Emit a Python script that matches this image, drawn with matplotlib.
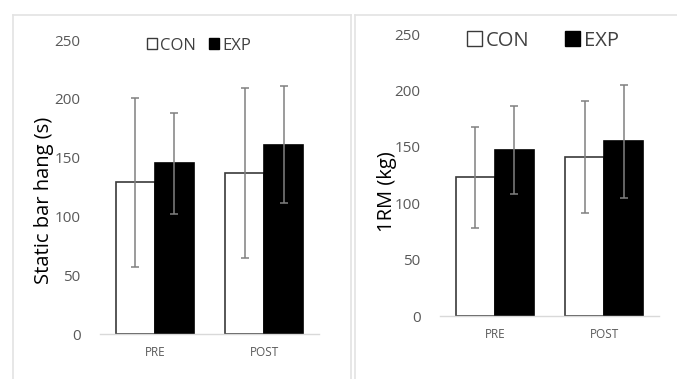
import matplotlib.pyplot as plt
from matplotlib.patches import Patch
from matplotlib.lines import Line2D
import numpy as np

# ── data ──────────────────────────────────────
phases = ['PRE', 'POST']
groups = ['CON', 'EXP']

hang_mean = {'CON': [129, 137], 'EXP': [145, 161]}
hang_sd = {'CON': [72, 72], 'EXP': [43, 50]}

rm_mean = {'CON': [123, 141], 'EXP': [147, 155]}
rm_sd = {'CON': [45, 50], 'EXP': [39, 50]}

W, H = 677, 379
fig = plt.figure(figsize=(W / 100, H / 100), dpi=100)
plt.rcParams['font.family'] = ['Open Sans', 'DejaVu Sans']

TICK_GRAY = '#595959'
ERR_GRAY = '#808080'
FRAME_GRAY = '#e3e3e3'


def px_axes(x0, x1, y_top, y_bot):
    return fig.add_axes([x0 / W, 1 - y_bot / H, (x1 - x0) / W, (y_bot - y_top) / H])


def draw_panel(ax, means, sds, ylabel):
    x = np.arange(len(phases))
    bw = 0.358
    ax.bar(x - bw / 2, means['CON'], bw, color='white', edgecolor='#3a3a3a', linewidth=1.2, zorder=2)
    ax.bar(x + bw / 2, means['EXP'], bw, color='black', edgecolor='black', linewidth=1.2, zorder=2)
    ax.errorbar(x - bw / 2, means['CON'], yerr=sds['CON'], fmt='none', ecolor=ERR_GRAY,
                elinewidth=1.1, capsize=3, capthick=1.1, zorder=3)
    ax.errorbar(x + bw / 2, means['EXP'], yerr=sds['EXP'], fmt='none', ecolor=ERR_GRAY,
                elinewidth=1.1, capsize=3, capthick=1.1, zorder=3)
    ax.set_xlim(-0.5, 1.5)
    ax.set_ylim(0, 250)
    ax.set_yticks(range(0, 251, 50))
    ax.set_xticks(x)
    ax.set_xticklabels(phases, fontsize=8.5, color=TICK_GRAY)
    ax.tick_params(axis='y', length=0, pad=14, labelsize=11, labelcolor=TICK_GRAY)
    ax.tick_params(axis='x', length=0, pad=9)
    for s in ['top', 'right', 'left']:
        ax.spines[s].set_visible(False)
    ax.spines['bottom'].set_color('#d9d9d9')
    ax.spines['bottom'].set_linewidth(1.0)
    ax.set_ylabel(ylabel, fontsize=14.5, color='black')


# left panel: static bar hang
ax1 = px_axes(100, 319, 40, 334)
draw_panel(ax1, hang_mean, hang_sd, 'Static bar hang (s)')
ax1.yaxis.set_label_coords((54 - 100) / 219, 0.456)

# right panel: 1RM
ax2 = px_axes(440, 659, 34.3, 316)
draw_panel(ax2, rm_mean, rm_sd, '1RM (kg)')
ax2.yaxis.set_label_coords((397 - 440) / 219, 0.442)

handles = [Patch(facecolor='white', edgecolor='#3a3a3a', linewidth=1.0, label='CON'),
           Patch(facecolor='black', edgecolor='black', label='EXP')]
fig.legend(handles=handles, loc='center', bbox_to_anchor=(199 / W, 1 - 45.5 / H), ncol=2,
           frameon=False, fontsize=12, handlelength=0.6, handleheight=0.6,
           handletextpad=0.2, columnspacing=0.8, labelcolor='#404040')
fig.legend(handles=handles, loc='center', bbox_to_anchor=(543 / W, 1 - 40.5 / H), ncol=2,
           frameon=False, fontsize=14.5, handlelength=0.7, handleheight=0.7,
           handletextpad=0.2, columnspacing=1.8, labelcolor='#404040')

# faint frames around each panel
for (xs, ys) in [([13, 13], [379, 15]), ([13, 351], [15, 15]), ([351, 351], [15, 379]),
                 ([355, 355], [379, 15]), ([355, 677], [15, 15])]:
    fig.add_artist(Line2D([v / W for v in xs], [1 - v / H for v in ys],
                          color=FRAME_GRAY, linewidth=1.2))

fig.savefig('out.png', dpi=100, facecolor='white')
